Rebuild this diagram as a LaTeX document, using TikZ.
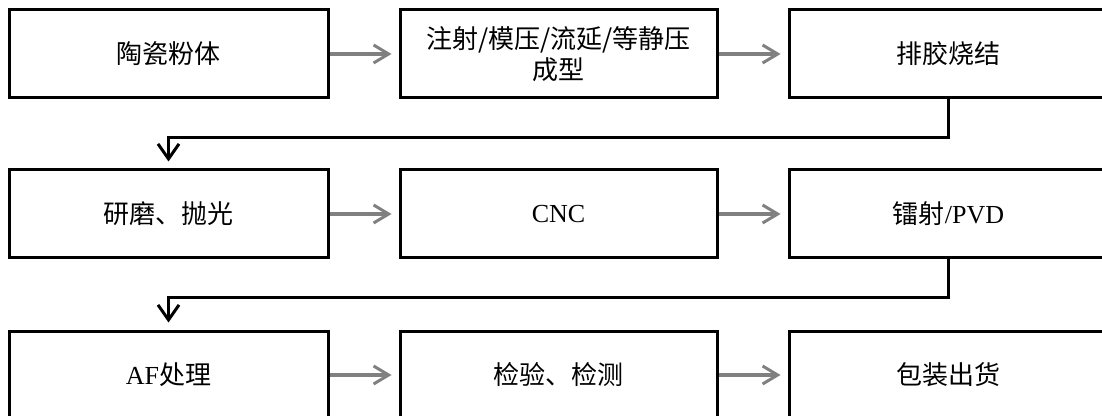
\documentclass[tikz,border=0pt]{standalone}
\usepackage{fontspec}
\setmainfont{Liberation Serif}
\newfontfamily\cjk{Noto Sans CJK SC}
\usepackage{tikz}
\usetikzlibrary{arrows.meta}

\begin{document}
\begin{tikzpicture}[x=1pt,y=1pt,
  stepbox/.style={draw,line width=3pt,minimum width=319pt,minimum height=88pt,inner sep=0pt,align=center,font=\cjk\fontsize{26}{31}\selectfont},
  flow/.style={draw=gray,line width=3.5pt,-{Straight Barb[length=15pt,width=18pt,line width=3pt]},shorten >=7pt},
  turn/.style={line width=2.5pt,-{Straight Barb[length=15pt,width=21pt,line width=3pt]},shorten >=7pt}]
%\draw[step=50,red,thin] (0,0) grid (1102,415);
\useasboundingbox (0,0) rectangle (1102,415);

% first row
\node[stepbox] (powder) at (168.5,361) {陶瓷粉体};
\node[stepbox,minimum width=317pt] (forming) at (558.5,361) {注射/模压/流延/等静压\\成型};
\node[stepbox] (sinter) at (948.5,361) {排胶烧结};

% second row
\node[stepbox] (polish) at (168.5,201) {研磨、抛光};
\node[stepbox,minimum width=317pt] (cnc) at (558.5,201) {\rmfamily CNC};
\node[stepbox] (pvd) at (948.5,201) {镭射{\rmfamily /PVD}};

% third row
\node[stepbox] (af) at (168.5,40) {{\rmfamily AF}处理};
\node[stepbox,minimum width=317pt] (check) at (558.5,40) {检验、检测};
\node[stepbox] (ship) at (948.5,40) {包装出货};

\draw[flow] (powder) -- (forming);
\draw[flow] (forming) -- (sinter);
\draw[flow] (polish) -- (cnc);
\draw[flow] (cnc) -- (pvd);
\draw[flow] (af) -- (check);
\draw[flow] (check) -- (ship);

\draw[turn] (sinter.south) -- ++(0,-38) -| (polish.north);
\draw[turn] (pvd.south) -- ++(0,-38) -| (af.north);

\end{tikzpicture}
\end{document}
